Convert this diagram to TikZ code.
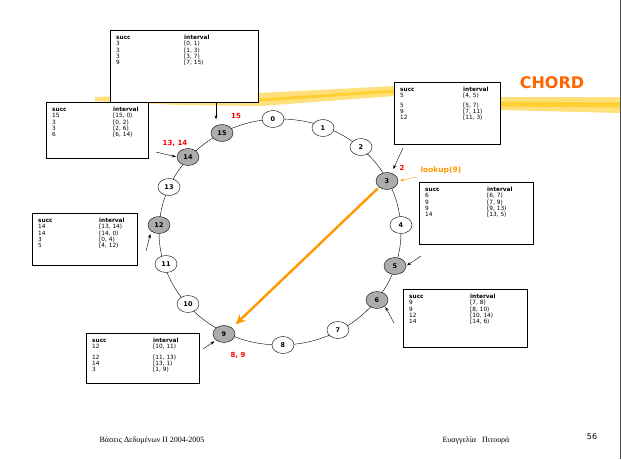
\documentclass[tikz,border=0pt]{standalone}
\usepackage{fontspec}
\setmainfont{Liberation Serif}
\setsansfont{DejaVu Sans}
\usetikzlibrary{positioning, arrows.meta, shapes.geometric}
\definecolor{peergray}{HTML}{ACACAC}
\definecolor{chordorange}{HTML}{FF6600}
\definecolor{lookorange}{HTML}{FF9900}
\definecolor{brush}{HTML}{FFCC22}
\newcommand{\fingertab}[4][55pt]{%
  \parbox[c][#3][t]{#2}{\sffamily\fontsize{5.8}{6.3}\selectfont
    \begin{tabular}{@{}p{#1}@{\hspace{6pt}}l@{}}
      \textbf{succ} & \textbf{interval}\\
      #4
    \end{tabular}}}

\begin{document}
\begin{tikzpicture}[
  x=1pt, y=-1pt,
  >={Stealth[length=4pt, width=3pt]},
  peer/.style={ellipse, draw, fill=white, minimum width=22pt, minimum height=17pt, inner sep=0pt, font=\sffamily\bfseries\fontsize{6.5}{7}\selectfont},
  live/.style={peer, fill=peergray},
  tbl/.style={draw, fill=white, anchor=north west, inner xsep=6pt, inner ysep=5pt},
  hit/.style={font=\sffamily\bfseries\fontsize{7}{8}\selectfont, text=red},
  ptr/.style={->, thin, shorten >=1pt}
]
  \fill[white] (0,0) rectangle (621,459);
  \useasboundingbox (0,0) rectangle (621,459);

  % brush stroke behind the title
  \fill[brush!70, opacity=.85] (95,97) -- (180,94) -- (260,93) -- (395,86) -- (500,97) -- (620,97)
    -- (620,113) -- (500,110) -- (395,96) -- (260,106) -- (180,105) -- (95,101) -- cycle;
  \draw[brush, line width=3pt, opacity=.8] (120,100) -- (260,100) -- (395,91);
  \draw[brush, line width=5pt, opacity=.8] (500,104) -- (620,105);
  \node[font=\sffamily\bfseries\fontsize{16}{16}\selectfont, text=chordorange] (title) at (552,83) {CHORD};

  % the ring
  \draw (280,232) ellipse [x radius=121pt, y radius=113pt];

  \node[peer] (n0) at (273,119) {0};
  \node[peer] (n1) at (323,128) {1};
  \node[peer] (n2) at (361,147) {2};
  \node[live] (n3) at (387,181) {3};
  \node[peer] (n4) at (401,225) {4};
  \node[live] (n5) at (395,266) {5};
  \node[live] (n6) at (377,300) {6};
  \node[peer] (n7) at (338,330) {7};
  \node[peer] (n8) at (283,345) {8};
  \node[live] (n9) at (224,334) {9};
  \node[peer] (n10) at (188,304) {10};
  \node[peer] (n11) at (166,264) {11};
  \node[live] (n12) at (159,225) {12};
  \node[peer] (n13) at (169,187) {13};
  \node[live] (n14) at (188,157) {14};
  \node[live] (n15) at (222,133) {15};

  % keys stored at each node
  \node[hit] (k15) at (236,116) {15};
  \node[hit] (k14) at (175,143) {13, 14};
  \node[hit] (k3) at (402,168) {2};
  \node[hit] (k9) at (238,355) {8, 9};

  % finger tables
  \node[tbl] (t15) at (110,30) {\fingertab[62pt]{136pt}{62pt}{
    3 & [0, 1)\\ 3 & [1, 3)\\ 3 & [3, 7)\\ 9 & [7, 15)}};
  \node[tbl] (t14) at (46,102) {\fingertab{90pt}{46pt}{
    15 & [15, 0)\\ 3 & [0, 2)\\ 3 & [2, 6)\\ 6 & [6, 14)}};
  \node[tbl] (t3) at (394,82) {\fingertab[57pt]{94pt}{52pt}{
    5 & [4, 5)\\[3pt] 5 & [5, 7)\\ 9 & [7, 11)\\ 12 & [11, 3)}};
  \node[tbl] (t5) at (419,182) {\fingertab[56pt]{102pt}{52pt}{
    6 & [6, 7)\\ 9 & [7, 9)\\ 9 & [9, 13)\\ 14 & [13, 5)}};
  \node[tbl] (t12) at (32,213) {\fingertab{93pt}{42pt}{
    14 & [13, 14)\\ 14 & [14, 0)\\ 3 & [0, 4)\\ 5 & [4, 12)}};
  \node[tbl] (t6) at (403,289) {\fingertab{112pt}{48pt}{
    9 & [7, 8)\\ 9 & [8, 10)\\ 12 & [10, 14)\\ 14 & [14, 6)}};
  \node[tbl] (t9) at (86,333) {\fingertab{101pt}{40pt}{
    12 & [10, 11)\\[4pt] 12 & [11, 13)\\ 14 & [13, 1)\\ 3 & [1, 9)}};

  % pointers from the tables
  \coordinate (p14) at (156,152);
  \coordinate (p3) at (403,148);
  \coordinate (p5) at (421,256);
  \coordinate (p6) at (394,323);
  \coordinate (p12) at (146,251);
  \coordinate (p9) at (203,349);
  \draw[ptr] ([xshift=-6pt]t15.south -| n15) -- ([xshift=-6pt, yshift=4pt]n15.north);
  \draw[ptr] (p14) -- (n14.west);
  \draw[ptr] (p3) -- ([xshift=-2pt, yshift=5pt]n3.north east);
  \draw[ptr] (p5) -- (n5.east);
  \draw[ptr] (p6) -- (n6.south east);
  \draw[ptr, shorten >=3pt] (p12) -- (n12.south west);
  \draw[ptr, shorten >=2pt] (p9) -- (n9.south west);

  % the lookup
  \node[font=\sffamily\bfseries\fontsize{7.5}{8}\selectfont, text=lookorange, anchor=west] (lookup) at (417,170) {lookup(9)};
  \draw[ptr, lookorange, shorten >=2pt] (lookup.south west) -- (n3.east);
  \draw[-{Stealth[length=10pt, width=9pt]}, lookorange, line width=2.4pt, shorten <=2pt, shorten >=5pt] (n3.south west) -- (n9.north east);

  % footer
  \node[font=\fontsize{8}{9}\selectfont] (course) at (152,441) {Βάσεις Δεδομένων II 2004-2005};
  \node[font=\fontsize{8}{9}\selectfont] (author) at (476,441) {Ευαγγελία\hspace{6pt}Πιτουρά};
  \node[font=\sffamily\fontsize{8}{8}\selectfont] (page) at (592,437) {56};
  \draw[black!70] (620.5,0) -- (620.5,459);
\end{tikzpicture}
\end{document}
